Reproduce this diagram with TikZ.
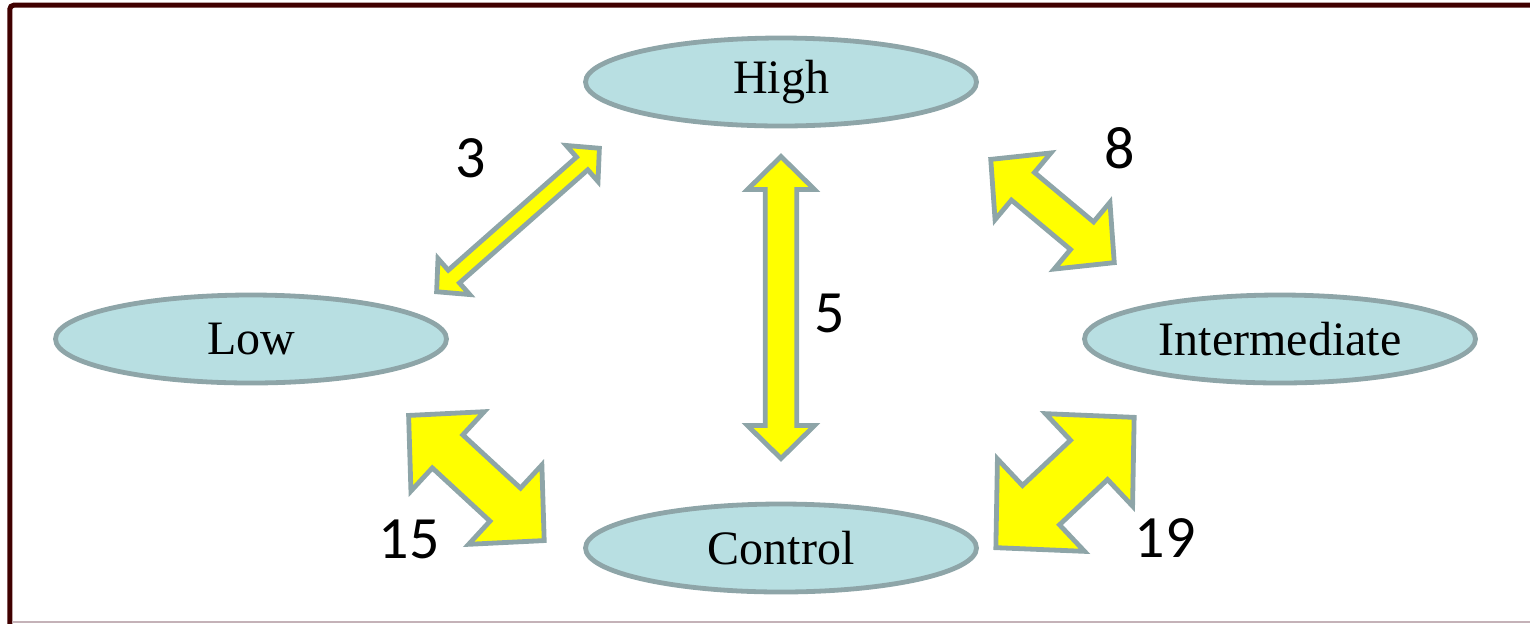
\documentclass[tikz,border=0pt]{standalone}
\usepackage{fontspec}
\setmainfont{Liberation Serif}
\newfontfamily\numfont{Carlito}
\usetikzlibrary{shapes.geometric}
\definecolor{framec}{HTML}{400000}
\definecolor{bottomc}{HTML}{C4B2B8}
\definecolor{edgec}{HTML}{8EA5A8}
\definecolor{ellfill}{HTML}{B8DFE2}
\definecolor{arrfill}{HTML}{FFFF00}
\tikzset{
  stateell/.style={ellipse, draw=edgec, fill=ellfill, line width=2.4pt,
    minimum width=195.5pt, minimum height=44pt, inner sep=0pt,
    font=\fontsize{24}{26}\selectfont},
  blockarrow/.style={draw=edgec, fill=arrfill, line width=2.4pt, line join=miter},
  numlabel/.style={inner sep=0pt, font=\numfont\fontsize{30}{31}\selectfont}
}
% name, cx, cy, angle, total length, head half width, shaft half width, head length
\newcommand\dblarr[8]{%
  \begin{scope}[shift={(#2,#3)}, rotate=#4]
    \pgfmathsetmacro\La{#5/2}
    \pgfmathsetmacro\Lb{#5/2-#8}
    \coordinate (#1-a) at (-\La,0);
    \coordinate (#1-b) at (\La,0);
    \draw[blockarrow] (#1-a) -- (-\Lb,#6) -- (-\Lb,#7) -- (\Lb,#7) -- (\Lb,#6) -- (#1-b)
      -- (\Lb,-#6) -- (\Lb,-#7) -- (-\Lb,-#7) -- (-\Lb,-#6) -- cycle;
  \end{scope}}
\begin{document}
\begin{tikzpicture}[x=0.5pt,y=-0.5pt]
\useasboundingbox (0,0) rectangle (1530,623);
% frame
\draw[framec, line width=2.5pt, rounded corners=2pt] (9.8,640) -- (9.8,5.2) -- (1545,5.2);
\draw[bottomc, line width=1pt] (12,622) -- (1530,622);
% states
\node[stateell] (high) at (781,82) {High};
\node[stateell] (low) at (251,339) {Low};
\node[stateell] (inter) at (1280,339) {Intermediate};
\node[stateell] (ctrl) at (781,548) {Control};
% arrows
\dblarr{a3}{518}{220}{41.4}{217}{24}{8.5}{23}
\dblarr{a8}{1052.5}{211}{-39.9}{161}{43.5}{18}{42}
\dblarr{a5}{781}{307.5}{90}{302}{33.5}{15.8}{33}
\dblarr{a15}{476.4}{478}{-42.7}{184.5}{54}{22.5}{53}
\dblarr{a19}{1065}{482.5}{43.3}{190}{63.5}{27}{62}
% labels
\node[numlabel] (n3) at (471,158) {3};
\node[numlabel] (n8) at (1120,148) {8};
\node[numlabel] (n5) at (830,313) {5};
\node[numlabel] (n15) at (409,539) {15};
\node[numlabel] (n19) at (1165,538) {19};
\end{tikzpicture}
\end{document}
